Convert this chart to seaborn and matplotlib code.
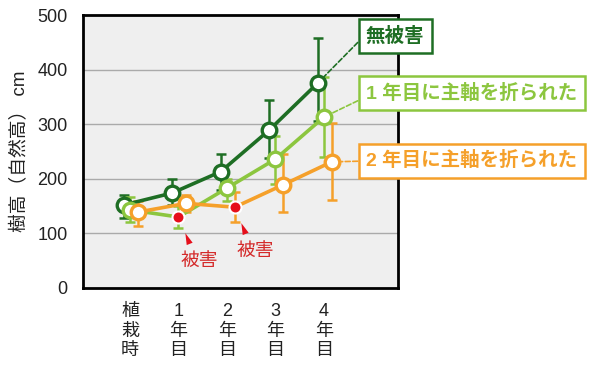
import matplotlib
matplotlib.use("Agg")
import matplotlib.pyplot as plt
from matplotlib.markers import MarkerStyle
from matplotlib.transforms import Affine2D, ScaledTranslation
import seaborn as sns
import pandas as pd
import numpy as np

# ---- data ----
categories = ["植\n栽\n時", "1\n年\n目", "2\n年\n目", "3\n年\n目", "4\n年\n目"]
series_names = ["無被害", "1 年目に主軸を折られた", "2 年目に主軸を折られた"]

undamaged = [152, 174, 213, 289, 375]
undamaged_lo = [128, 152, 180, 238, 306]
undamaged_hi = [170, 200, 245, 344, 458]

broken_y1 = [143, 130, 183, 236, 313]
broken_y1_lo = [121, 110, 160, 190, 240]
broken_y1_hi = [167, 150, 200, 278, 386]

broken_y2 = [139, 155, 148, 189, 231]
broken_y2_lo = [114, 140, 121, 139, 161]
broken_y2_hi = [160, 170, 175, 245, 303]

damage_index = [None, 1, 2]          # category where the damage occurred
damage_label = "被害"

colors = ["#1e6e24", "#8cc63f", "#f5a02a"]
red = "#e60f1b"
offsets = [-0.13, 0.0, 0.16]

values = [undamaged, broken_y1, broken_y2]
lows = [undamaged_lo, broken_y1_lo, broken_y2_lo]
highs = [undamaged_hi, broken_y1_hi, broken_y2_hi]

rows = []
for s, name in enumerate(series_names):
    for i in range(len(categories)):
        rows.append(dict(series=name, xpos=i + offsets[s], height=values[s][i],
                         lo=lows[s][i], hi=highs[s][i],
                         damaged=(damage_index[s] == i)))
df = pd.DataFrame(rows)

sns.set_theme(style="white")
plt.rcParams["font.family"] = ["Liberation Sans", "Noto Sans CJK JP"]

fig = plt.figure(figsize=(6.0, 3.67), dpi=100)
ax = fig.add_axes([83 / 600, 1 - 288 / 367, 315 / 600, 273 / 367])
ax.set_facecolor("#efefef")

# grid
for gy in [100, 200, 300, 400]:
    ax.axhline(gy, color="#aaaaaa", lw=1.0, zorder=0)

# error bars
for s, name in enumerate(series_names):
    d = df[df.series == name]
    ax.errorbar(d.xpos, d.height, yerr=[d.height - d.lo, d.hi - d.height],
                fmt="none", ecolor=colors[s], elinewidth=1.8, capsize=3.5,
                capthick=1.8, zorder=2)

# lines
sns.lineplot(data=df, x="xpos", y="height", hue="series", hue_order=series_names,
             palette=colors, sort=False, lw=2.6, legend=False, ax=ax, zorder=3,
             errorbar=None)

# markers
for s, name in enumerate(series_names):
    d = df[(df.series == name) & (~df.damaged)]
    sns.scatterplot(x=d.xpos, y=d.height, s=110, color="white",
                    edgecolor=colors[s], linewidth=2.4, ax=ax, zorder=4 + s,
                    legend=False)
dd = df[df.damaged]
sns.scatterplot(x=dd.xpos, y=dd.height, s=75, color=red, edgecolor="white",
                linewidth=1.5, ax=ax, zorder=8, legend=False)

# damage annotations: arrowhead below-right of the red dot, then label
head = MarkerStyle([(0, 1), (-0.55, -1), (0.55, -1), (0, 1)],
                   transform=Affine2D().rotate_deg(22))
shift = ScaledTranslation(6 / 72, -15 / 72, fig.dpi_scale_trans)
ax.scatter(dd.xpos, dd.height, marker=head, s=70, color=red, linewidths=0,
           transform=ax.transData + shift, zorder=9)
for _, r in dd.iterrows():
    ax.annotate(damage_label, xy=(r.xpos, r.height), xytext=(15, -32),
                textcoords="offset points", ha="center", va="center",
                fontsize=13.5, color="#d42a2a", zorder=9)

# series labels with leader lines
label_pos = [(366 / 600, 1 - 36 / 367), (366 / 600, 1 - 93 / 367), (366 / 600, 1 - 161 / 367)]
relpos = [(0, 0.6), (0, 0.3), (0, 0.5)]
for s, name in enumerate(series_names):
    x_last = len(categories) - 1 + offsets[s]
    ax.annotate(name, xy=(x_last, values[s][-1]), xycoords="data",
                xytext=label_pos[s], textcoords="figure fraction",
                ha="left", va="center", fontsize=14, fontweight="bold",
                color=colors[s],
                bbox=dict(boxstyle="square,pad=0.38", fc="white", ec=colors[s], lw=1.8),
                arrowprops=dict(arrowstyle="-", ls=(0, (3, 1.5)), color=colors[s],
                                lw=1.2, shrinkA=0, shrinkB=7, relpos=relpos[s]),
                annotation_clip=False, zorder=10)

ax.set_xlim(-0.97, 5.53)
ax.set_ylim(0, 500)
ax.set_yticks([0, 100, 200, 300, 400, 500])
ax.set_xticks(range(len(categories)))
ax.set_xticklabels(categories, linespacing=1.2)
ax.tick_params(axis="both", length=0, labelsize=13, colors="#222222")
ax.tick_params(axis="y", pad=11)
ax.tick_params(axis="x", pad=11)
ax.set_xlabel("")
ax.set_ylabel("樹高（自然高） cm", fontsize=13.5, color="#222222", labelpad=6)
for sp in ax.spines.values():
    sp.set_color("black")
    sp.set_linewidth(2.0)
    sp.set_visible(True)

fig.savefig("out.png", dpi=100)
